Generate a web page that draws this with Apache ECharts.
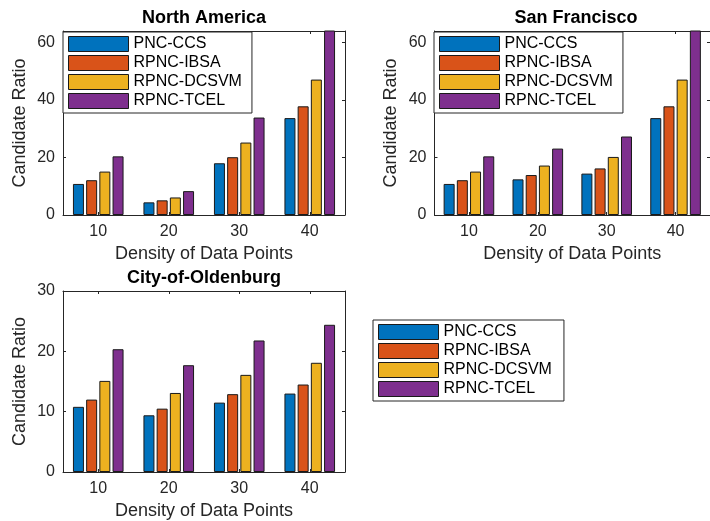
<!DOCTYPE html>
<html>
<head>
<meta charset="utf-8">
<script src="https://cdn.jsdelivr.net/npm/echarts@6/dist/echarts.min.js"></script>
<style>
  html, body { margin: 0; padding: 0; background: #fff; }
  #chart { width: 710px; height: 521px; }
</style>
</head>
<body>
<div id="chart"></div>
<script>
// categories + legend names
const categories = ['10', '20', '30', '40'];
const seriesNames = ['PNC-CCS', 'RPNC-IBSA', 'RPNC-DCSVM', 'RPNC-TCEL'];
const colors = ['#0072BD', '#D95319', '#EDB120', '#7E2F8E'];

// North America
const naCCS = [10.8, 4.4, 18.0, 33.7];
const naIBSA = [12.1, 5.1, 20.1, 37.8];
const naDCSVM = [15.1, 6.1, 25.2, 47.1];
const naTCEL = [20.4, 8.3, 33.9, 70];

// San Francisco
const sfCCS = [10.8, 12.4, 14.4, 33.7];
const sfIBSA = [12.1, 13.9, 16.2, 37.8];
const sfDCSVM = [15.1, 17.2, 20.2, 47.1];
const sfTCEL = [20.4, 23.1, 27.3, 70];

// City-of-Oldenburg
const olCCS = [10.8, 9.4, 11.5, 13.0];
const olIBSA = [12.0, 10.5, 12.9, 14.5];
const olDCSVM = [15.1, 13.1, 16.1, 18.1];
const olTCEL = [20.35, 17.7, 21.8, 24.4];

// tick labels
const yTicksTop = [0, 20, 40, 60];
const yTicksBottom = [0, 10, 20, 30];

const font = 'Liberation Sans, Arial, sans-serif';
const axisColor = '#262626';

const chart = echarts.init(document.getElementById('chart'));

function xAxes(gridIndex) {
  const base = {
    type: 'category',
    data: categories,
    gridIndex: gridIndex,
    axisLine: { show: true, onZero: false, lineStyle: { color: axisColor, width: 1 } },
    axisTick: { show: true, inside: true, alignWithLabel: true, length: 3, lineStyle: { color: axisColor } },
    splitLine: { show: false }
  };
  return [
    Object.assign({}, base, {
      position: 'bottom',
      name: 'Density of Data Points',
      nameLocation: 'middle',
      nameGap: 30,
      nameTextStyle: { fontSize: 18, color: axisColor, fontFamily: font },
      axisLabel: { margin: 9, fontSize: 16, color: axisColor, fontFamily: font }
    }),
    Object.assign({}, base, { position: 'top', axisLabel: { show: false } })
  ];
}

function yAxes(gridIndex, max, ticks) {
  const base = {
    type: 'value',
    gridIndex: gridIndex,
    min: 0,
    max: max,
    axisLine: { show: true, lineStyle: { color: axisColor, width: 1 } },
    axisTick: { show: true, inside: true, length: 3, customValues: ticks, lineStyle: { color: axisColor } },
    splitLine: { show: false }
  };
  return [
    Object.assign({}, base, {
      position: 'left',
      name: 'Candidate Ratio',
      nameLocation: 'middle',
      nameGap: 34,
      nameTextStyle: { fontSize: 18, color: axisColor, fontFamily: font },
      axisLabel: { margin: 8, fontSize: 16, color: axisColor, fontFamily: font, customValues: ticks }
    }),
    Object.assign({}, base, { position: 'right', axisLabel: { show: false } })
  ];
}

function bars(gridIndex, groups) {
  return groups.map((vals, i) => ({
    name: seriesNames[i],
    type: 'bar',
    xAxisIndex: gridIndex * 2,
    yAxisIndex: gridIndex * 2,
    data: vals,
    barWidth: 11,
    barGap: '20%',
    clip: true,
    itemStyle: { color: colors[i], borderColor: '#1a1a1a', borderWidth: 1 }
  }));
}

function legendAt(left, top, right) {
  return {
    data: seriesNames,
    left: left,
    top: top,
    orient: 'vertical',
    icon: 'rect',
    itemWidth: 60,
    itemHeight: 15,
    itemGap: 3,
    padding: [4, right, 4, 5],
    backgroundColor: '#fff',
    borderColor: axisColor,
    borderWidth: 1,
    borderRadius: 0,
    selectedMode: false,
    itemStyle: { borderColor: '#1a1a1a', borderWidth: 1 },
    textStyle: { fontSize: 16, color: '#000', fontFamily: font }
  };
}

const titleStyle = { fontSize: 18, fontWeight: 'bold', color: '#000', fontFamily: font };

const option = {
  animation: false,
  title: [
    { text: 'North America', left: 204, top: 9, textAlign: 'center', padding: 0, textStyle: titleStyle },
    { text: 'San Francisco', left: 576, top: 9, textAlign: 'center', padding: 0, textStyle: titleStyle },
    { text: 'City-of-Oldenburg', left: 204, top: 269, textAlign: 'center', padding: 0, textStyle: titleStyle }
  ],
  legend: [
    legendAt(63, 32, 10),
    legendAt(434, 32, 10),
    legendAt(373, 320, 12)
  ],
  grid: [
    { left: 63, top: 31, width: 282, height: 184 },
    { left: 434.5, top: 31, width: 284, height: 184 },
    { left: 63, top: 291, width: 282, height: 182 }
  ],
  xAxis: [].concat(xAxes(0), xAxes(1), xAxes(2)),
  yAxis: [].concat(yAxes(0, 64, yTicksTop), yAxes(1, 64, yTicksTop), yAxes(2, 30, yTicksBottom)),
  series: [].concat(
    bars(0, [naCCS, naIBSA, naDCSVM, naTCEL]),
    bars(1, [sfCCS, sfIBSA, sfDCSVM, sfTCEL]),
    bars(2, [olCCS, olIBSA, olDCSVM, olTCEL])
  )
};

chart.setOption(option);
</script>
</body>
</html>
